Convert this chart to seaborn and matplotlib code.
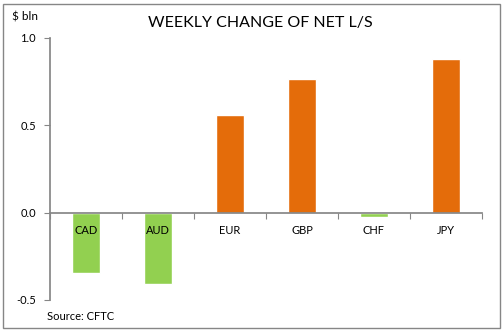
import matplotlib
matplotlib.use("Agg")
import matplotlib.pyplot as plt
import seaborn as sns
import pandas as pd
from matplotlib.patches import Rectangle

currencies = ["CAD", "AUD", "EUR", "GBP", "CHF", "JPY"]
changes = [-0.343, -0.41, 0.56, 0.766, -0.023, 0.88]
y_ticks = [-0.5, 0.0, 0.5, 1.0]
y_ticklabels = ["-0.5", "0.0", "0.5", "1.0"]

sns.set_theme(style="white")
plt.rcParams['font.family'] = ['Lato', 'DejaVu Sans']

df = pd.DataFrame({"cur": currencies, "chg": changes})
df["sign"] = ["pos" if v > 0 else "neg" for v in changes]
pal = {"pos": "#E46C0A", "neg": "#92D050"}

fig = plt.figure(figsize=(5.04, 3.31), dpi=100)
fig.patch.set_facecolor("white")
ax = fig.add_axes([50/504, 1-300/331, (482-50)/504, (300-38)/331])

sns.barplot(data=df, x="cur", y="chg", hue="sign", palette=pal, order=currencies,
            width=0.4, legend=False, ax=ax, saturation=1, dodge=False)

ax.set_xlim(-0.5, 5.5)
ax.set_ylim(-0.5, 1.0)
ax.set_yticks(y_ticks)
ax.set_yticklabels(y_ticklabels)
ax.set_xlabel("")
ax.set_ylabel("")

gray = "#868686"
for s in ["top", "right"]:
    ax.spines[s].set_visible(False)
ax.spines["left"].set_color(gray)
ax.spines["bottom"].set_color(gray)
ax.spines["bottom"].set_position(("data", 0))
ax.spines["bottom"].set_zorder(6)
ax.xaxis.set_zorder(6)

ax.set_xticks(range(len(currencies)))
ax.set_xticklabels(currencies)
ax.set_xticks([i - 0.5 for i in range(len(currencies) + 1)], minor=True)
ax.tick_params(axis="x", which="major", length=0, pad=9, labelsize=8, labelcolor="#000000")
ax.tick_params(axis="x", which="minor", length=4, width=0.8, color=gray, direction="out", bottom=True)
ax.tick_params(axis="y", which="major", length=4, width=0.8, color=gray, direction="out",
               left=True, labelsize=8, labelcolor="#000000", pad=6)

fig.text(260/504, 1-23/331, "WEEKLY CHANGE OF NET L/S", ha="center", va="center",
         fontsize=11.5, color="#000000")
fig.text(12/504, 1-17/331, "$ bln", ha="left", va="center", fontsize=8.5, color="#000000")
fig.text(47/504, 1-317/331, "Source: CFTC", ha="left", va="center", fontsize=8, color="#000000")

fig.patches.append(Rectangle((2.5/504, 3.5/331), 497/504, 324/331, transform=fig.transFigure,
                             fill=False, edgecolor=gray, linewidth=1))

fig.savefig("out.png", dpi=100)
